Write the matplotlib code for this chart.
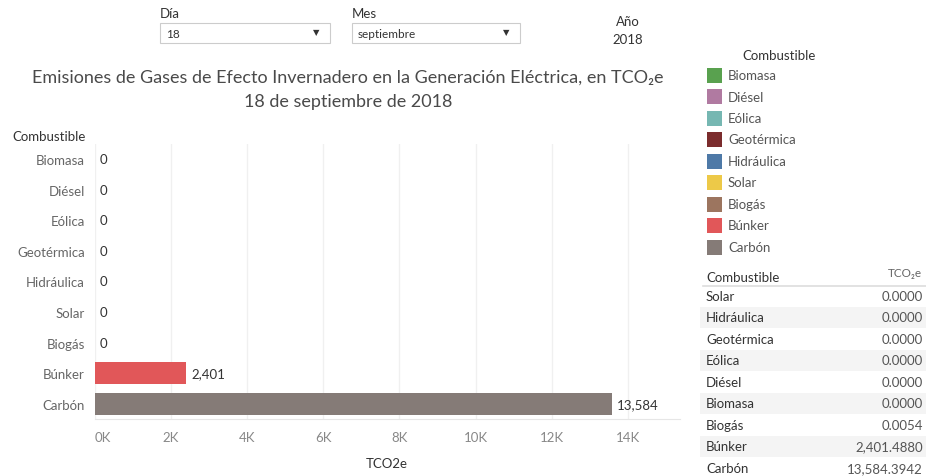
import matplotlib.pyplot as plt
from matplotlib.patches import Rectangle

plt.rcParams['font.family'] = ['Lato', 'DejaVu Sans']

# chart data
fuels = ['Biomasa', 'Diésel', 'Eólica', 'Geotérmica', 'Hidráulica', 'Solar', 'Biogás', 'Búnker', 'Carbón']
emissions = [0, 0, 0, 0, 0, 0, 0.0054, 2401.4880, 13584.3942]
colors = ['#59a14f', '#b07aa1', '#76b7b2', '#7b2c2d', '#4e79a7', '#edc948', '#9c755f', '#e15759', '#857b77']
xticks = [0, 2000, 4000, 6000, 8000, 10000, 12000, 14000]
xtick_labels = ['0K', '2K', '4K', '6K', '8K', '10K', '12K', '14K']

# side table (sorted as in the view)
table_fuels = ['Solar', 'Hidráulica', 'Geotérmica', 'Eólica', 'Diésel', 'Biomasa', 'Biogás', 'Búnker', 'Carbón']
table_values = [0.0, 0.0, 0.0, 0.0, 0.0, 0.0, 0.0054, 2401.4880, 13584.3942]

dia = '18'
mes = 'septiembre'
anio = '2018'

W, H = 926, 477
fig = plt.figure(figsize=(W / 100, H / 100), dpi=100)
fig.patch.set_facecolor('white')

# main bar chart
ax = fig.add_axes([94.5 / W, (H - 420) / H, (680 - 94.5) / W, 275 / H])
y = list(range(len(fuels)))
ax.barh(y, emissions, height=0.72, color=colors, zorder=3)
for i, v in enumerate(emissions):
    ax.text(v + 130, i, f'{v:,.0f}', va='center', ha='left', fontsize=9.5, color='#333333')
ax.set_ylim(len(fuels) - 0.5, -0.5)
ax.set_xlim(0, 15360)
ax.set_yticks(y)
ax.set_yticklabels(fuels, fontsize=9.5, color='#666666')
ax.set_xticks(xticks)
ax.set_xticklabels(xtick_labels, fontsize=9.5, color='#888888')
ax.get_xticklabels()[0].set_ha('left')
ax.tick_params(axis='both', length=0)
ax.tick_params(axis='y', pad=7)
ax.tick_params(axis='x', pad=9)
ax.grid(axis='x', color='#f0f0f0', linewidth=1, zorder=0)
for s in ['top', 'right', 'left']:
    ax.spines[s].set_visible(False)
ax.spines['bottom'].set_color('#e6e6e6')
ax.set_xlabel('TCO2e', fontsize=9.5, color='#333333', labelpad=10)

# overlay in pixel coordinates for the dashboard pieces
ov = fig.add_axes([0, 0, 1, 1], facecolor='none')
ov.set_xlim(0, W)
ov.set_ylim(H, 0)
ov.axis('off')

ov.text(348, 78, 'Emisiones de Gases de Efecto Invernadero en la Generación Eléctrica, en TCO₂e',
        ha='center', va='center', fontsize=13, color='#4a4a4a')
ov.text(348, 102, f'{dia} de {mes} de {anio}', ha='center', va='center', fontsize=13, color='#4a4a4a')
ov.text(12, 137, 'Combustible', ha='left', va='center', fontsize=9.5, color='#333333')

# filters
for label, val, x0, x1 in [('Día', dia, 160, 330), ('Mes', mes, 352, 520)]:
    ov.text(x0, 14, label, ha='left', va='center', fontsize=9.5, color='#333333')
    ov.add_patch(Rectangle((x0, 24), x1 - x0, 20, facecolor='white', edgecolor='#cccccc', lw=0.8))
    ov.text(x0 + 6, 34.5, val, ha='left', va='center', fontsize=8.5, color='#333333')
    ov.text(x1 - 14, 33, '▼', ha='center', va='center', fontsize=6, color='#333333')
ov.text(628, 22, 'Año', ha='center', va='center', fontsize=9.5, color='#333333')
ov.text(628, 40, anio, ha='center', va='center', fontsize=9.5, color='#333333')

# color legend
ov.text(779, 56, 'Combustible', ha='center', va='center', fontsize=9.5, color='#333333')
for i, (f, c) in enumerate(zip(fuels, colors)):
    yy = 76 + i * 21.5
    ov.add_patch(Rectangle((707, yy - 7.5), 15, 15, facecolor=c, edgecolor='none'))
    ov.text(728, yy, f, ha='left', va='center', fontsize=9.5, color='#555555')

# text table
ov.text(706, 278, 'Combustible', ha='left', va='center', fontsize=9.5, color='#333333')
ov.text(922, 274, 'TCO₂e', ha='right', va='center', fontsize=8.5, color='#666666')
ov.plot([703, 926], [287, 287], color='#dddddd', lw=1.2)
for i, (f, v) in enumerate(zip(table_fuels, table_values)):
    yy = 297 + i * 21.5
    if i % 2 == 1:
        ov.add_patch(Rectangle((700, yy - 10.5), 226, 21, facecolor='#f4f4f4', edgecolor='none'))
    ov.text(706, yy, f, ha='left', va='center', fontsize=9.5, color='#333333')
    ov.text(923, yy, f'{v:,.4f}', ha='right', va='center', fontsize=9.5, color='#555555')

fig.savefig('out.png', dpi=100)
